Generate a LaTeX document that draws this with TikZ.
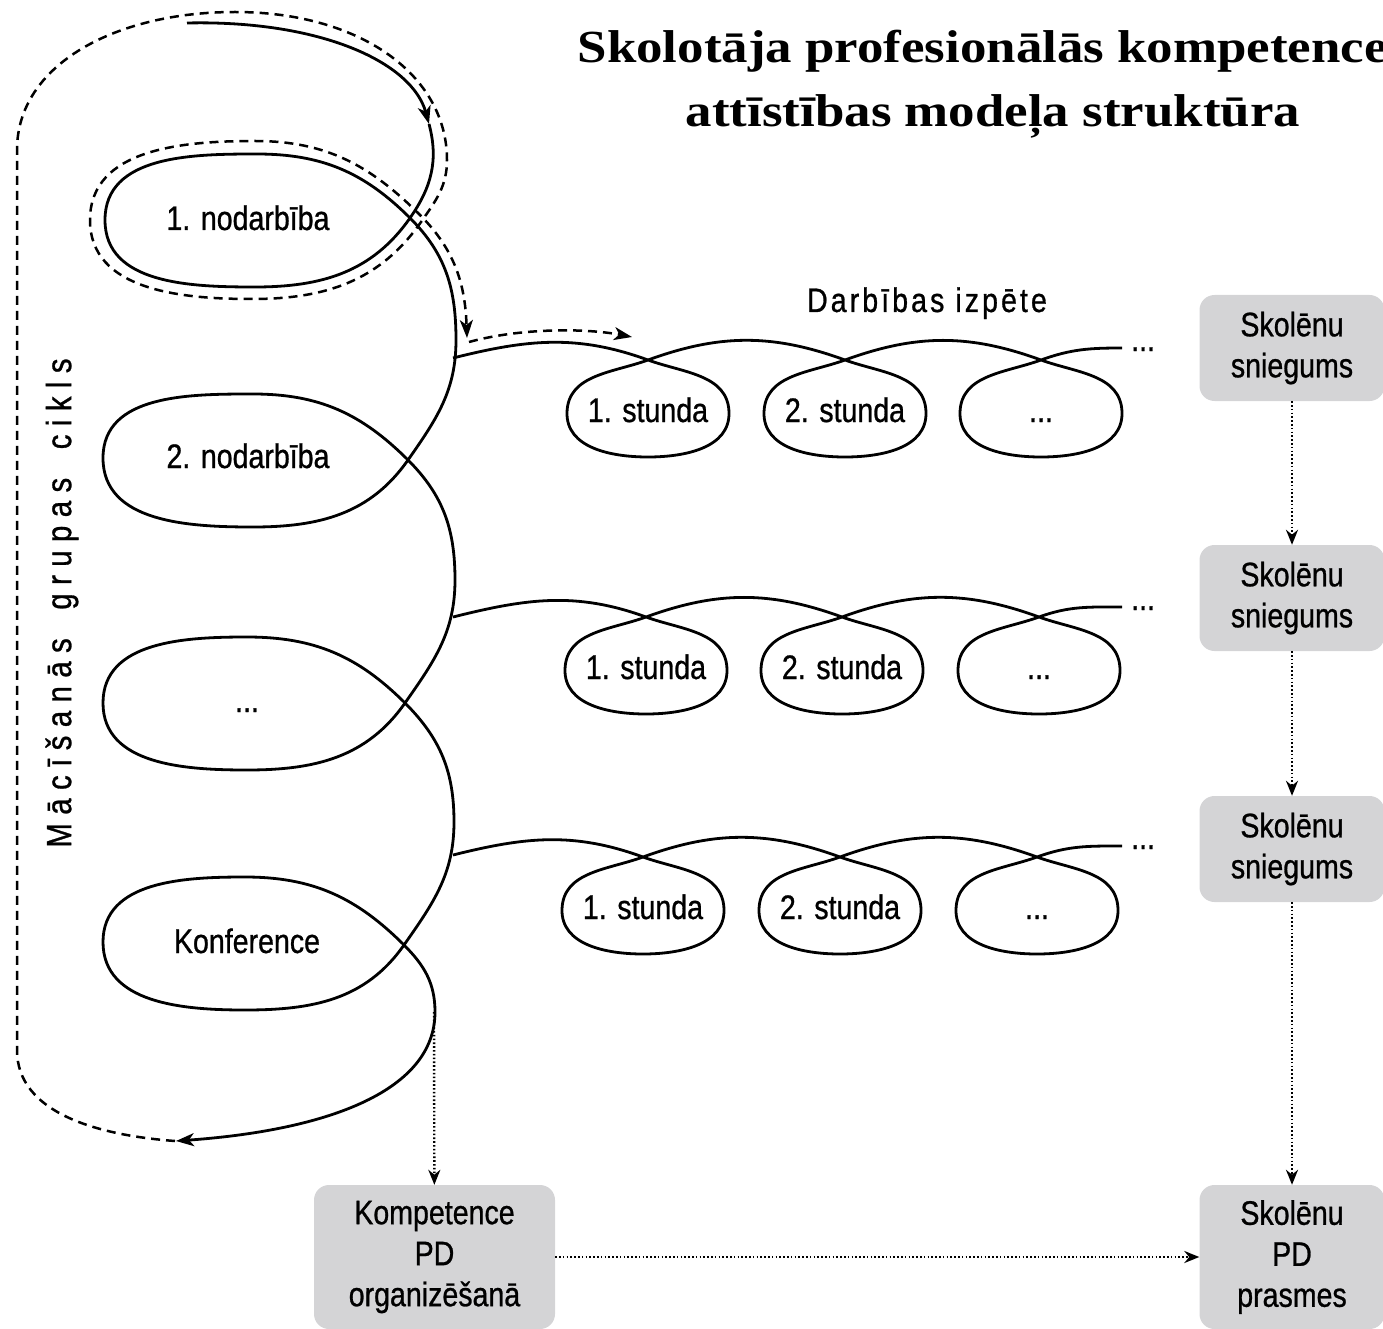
\documentclass[tikz,border=0pt]{standalone}
\usepackage{fontspec}
\setmainfont{Liberation Sans}[FakeStretch=0.84, FakeBold=0.8]
\newfontfamily\titlefont{Liberation Serif}[FakeStretch=1.15]
\usetikzlibrary{arrows.meta}
\definecolor{boxgray}{RGB}{212,212,214}
\tikzset{
  spiral line/.style={line width=2.8pt, line join=round},
  dash line/.style={line width=2.5pt, dash pattern=on 9pt off 6pt},
  dot arrow/.style={line width=2.4pt, dash pattern=on 1.6pt off 2.2pt, -{Stealth[length=15pt,width=12pt]}},
  bigtip/.style={-{Stealth[length=18pt,width=13pt,inset=5pt]}},
  lbl/.style={inner sep=0pt, font=\fontsize{34}{40}\selectfont},
  gbox/.style={fill=boxgray, rounded corners=15pt, minimum width=185pt, minimum height=106pt,
    align=center, inner sep=0pt, font=\fontsize{34}{41}\selectfont},
  titletext/.style={inner sep=0pt, anchor=base, font=\titlefont\bfseries\fontsize{46}{52}\selectfont}
}
\begin{document}
\begin{tikzpicture}[x=1pt,y=1pt]
\useasboundingbox (0,0) rectangle (1383,-1329);

% title
\node[titletext] (t1) at (993,-63) {Skolotāja profesionālās kompetences};
\node[titletext] (t2) at (993,-127) {attīstības modeļa struktūra};

% side labels
\node[lbl, rotate=90, font=\fontsize{35}{40}\selectfont\addfontfeatures{LetterSpace=24}] (cyc) at (62,-603) {Mācīšanās\hspace{12pt} grupas\hspace{12pt} cikls};
\node[lbl, anchor=base, font=\fontsize{34}{40}\selectfont\addfontfeatures{LetterSpace=9}] (izp) at (927,-312) {Darbības izpēte};

% dashed outer path
\draw[dash line, bigtip] (175,-1141) .. controls (95,-1135) and (17,-1112) .. (17,-1050)
  -- (17,-150) .. controls (17,-65) and (115,-12) .. (235,-12)
  .. controls (360,-12) and (447,-75) .. (447,-160)
  to[out=-90,in=55] (421,-222) to[out=235,in=0] (252,-299)
  to[out=180,in=-90] (90,-220) to[out=90,in=180] (255,-141)
  to[out=0,in=135] (420,-215) to[out=-45,in=92] (467,-338);
\draw[dash line, bigtip] (469,-342) .. controls (520,-328) and (585,-328) .. (632,-337);

% main spiral
\draw[spiral line, bigtip] (187,-23) .. controls (320,-20) and (412,-62) .. (429,-124);
\draw[spiral line, bigtip] (429,-124) to[out=-75,in=55] (410,-218)
  to[out=235,in=0] (255,-287) to[out=180,in=-90] (105,-220) to[out=90,in=180] (257,-154)
  to[out=0,in=135] (410,-218) to[out=-45,in=90] (456,-340) to[out=-90,in=55] (408,-460)
  to[out=235,in=0] (253,-527) to[out=180,in=-90] (103,-458) to[out=90,in=180] (253,-394)
  to[out=0,in=135] (408,-460) to[out=-45,in=90] (455,-580) to[out=-90,in=55] (405,-703)
  to[out=235,in=0] (247,-770) to[out=180,in=-90] (103,-703) to[out=90,in=180] (247,-637)
  to[out=0,in=135] (405,-703) to[out=-45,in=90] (454,-822) to[out=-90,in=55] (404,-945)
  to[out=235,in=0] (245,-1010) to[out=180,in=-90] (103,-942) to[out=90,in=180] (245,-877)
  to[out=0,in=135] (404,-945) to[out=-45,in=90] (435,-1012)
  .. controls (435,-1090) and (330,-1130) .. (176,-1141);
\coordinate (kstart) at (434,-1012);

\node[lbl, anchor=base] (n1) at (248,-230) {1. nodarbība};
\node[lbl, anchor=base] (n2) at (248,-468) {2. nodarbība};
\node[lbl, anchor=base] (n3) at (247,-712) {...};
\node[lbl, anchor=base] (n4) at (247,-953) {Konference};

% horizontal rows
\foreach \r/\yc/\xa/\xb/\xc/\ys/\ye in {1/-360/648/845/1041/-358/-348, 2/-617/646/842/1039/-617/-607, 3/-857/643/840/1037/-855/-846}{
  \draw[spiral line] (453,\ys) to[out=14,in=160] (\xa,\yc)
    to[out=-20,in=92] ({\xa+81},{\yc-52}) to[out=-88,in=0] (\xa,{\yc-97})
    to[out=180,in=-92] ({\xa-81},{\yc-52}) to[out=88,in=200] (\xa,\yc)
    to[out=20,in=160] (\xb,\yc)
    to[out=-20,in=92] ({\xb+81},{\yc-52}) to[out=-88,in=0] (\xb,{\yc-97})
    to[out=180,in=-92] ({\xb-81},{\yc-52}) to[out=88,in=200] (\xb,\yc)
    to[out=20,in=160] (\xc,\yc)
    to[out=-20,in=92] ({\xc+81},{\yc-52}) to[out=-88,in=0] (\xc,{\yc-97})
    to[out=180,in=-92] ({\xc-81},{\yc-52}) to[out=88,in=200] (\xc,\yc)
    to[out=20,in=180] (1122,\ye);
  \node[lbl, anchor=base] (r\r a) at (\xa,{\yc-62}) {1. stunda};
  \node[lbl, anchor=base] (r\r b) at (\xb,{\yc-62}) {2. stunda};
  \node[lbl, anchor=base] (r\r c) at (\xc,{\yc-62}) {...};
  \node[lbl, anchor=base west] (r\r d) at (1131,{\ye-3}) {...};
}

% boxes
\node[gbox] (b1) at (1292,-348) {Skolēnu\\sniegums};
\node[gbox] (b2) at (1292,-598) {Skolēnu\\sniegums};
\node[gbox] (b3) at (1292,-849) {Skolēnu\\sniegums};
\node[gbox, minimum height=144pt] (b4) at (1292,-1257) {Skolēnu\\PD\\prasmes};
\node[gbox, minimum height=144pt, minimum width=241pt] (komp) at (434.5,-1257) {Kompetence\\PD\\organizēšanā};

% dotted arrows
\draw[dot arrow] (b1) -- (b2);
\draw[dot arrow] (b2) -- (b3);
\draw[dot arrow] (b3) -- (b4);
\draw[dot arrow] (kstart) -- (komp);
\draw[dot arrow] (komp) -- (b4);
\end{tikzpicture}
\end{document}
